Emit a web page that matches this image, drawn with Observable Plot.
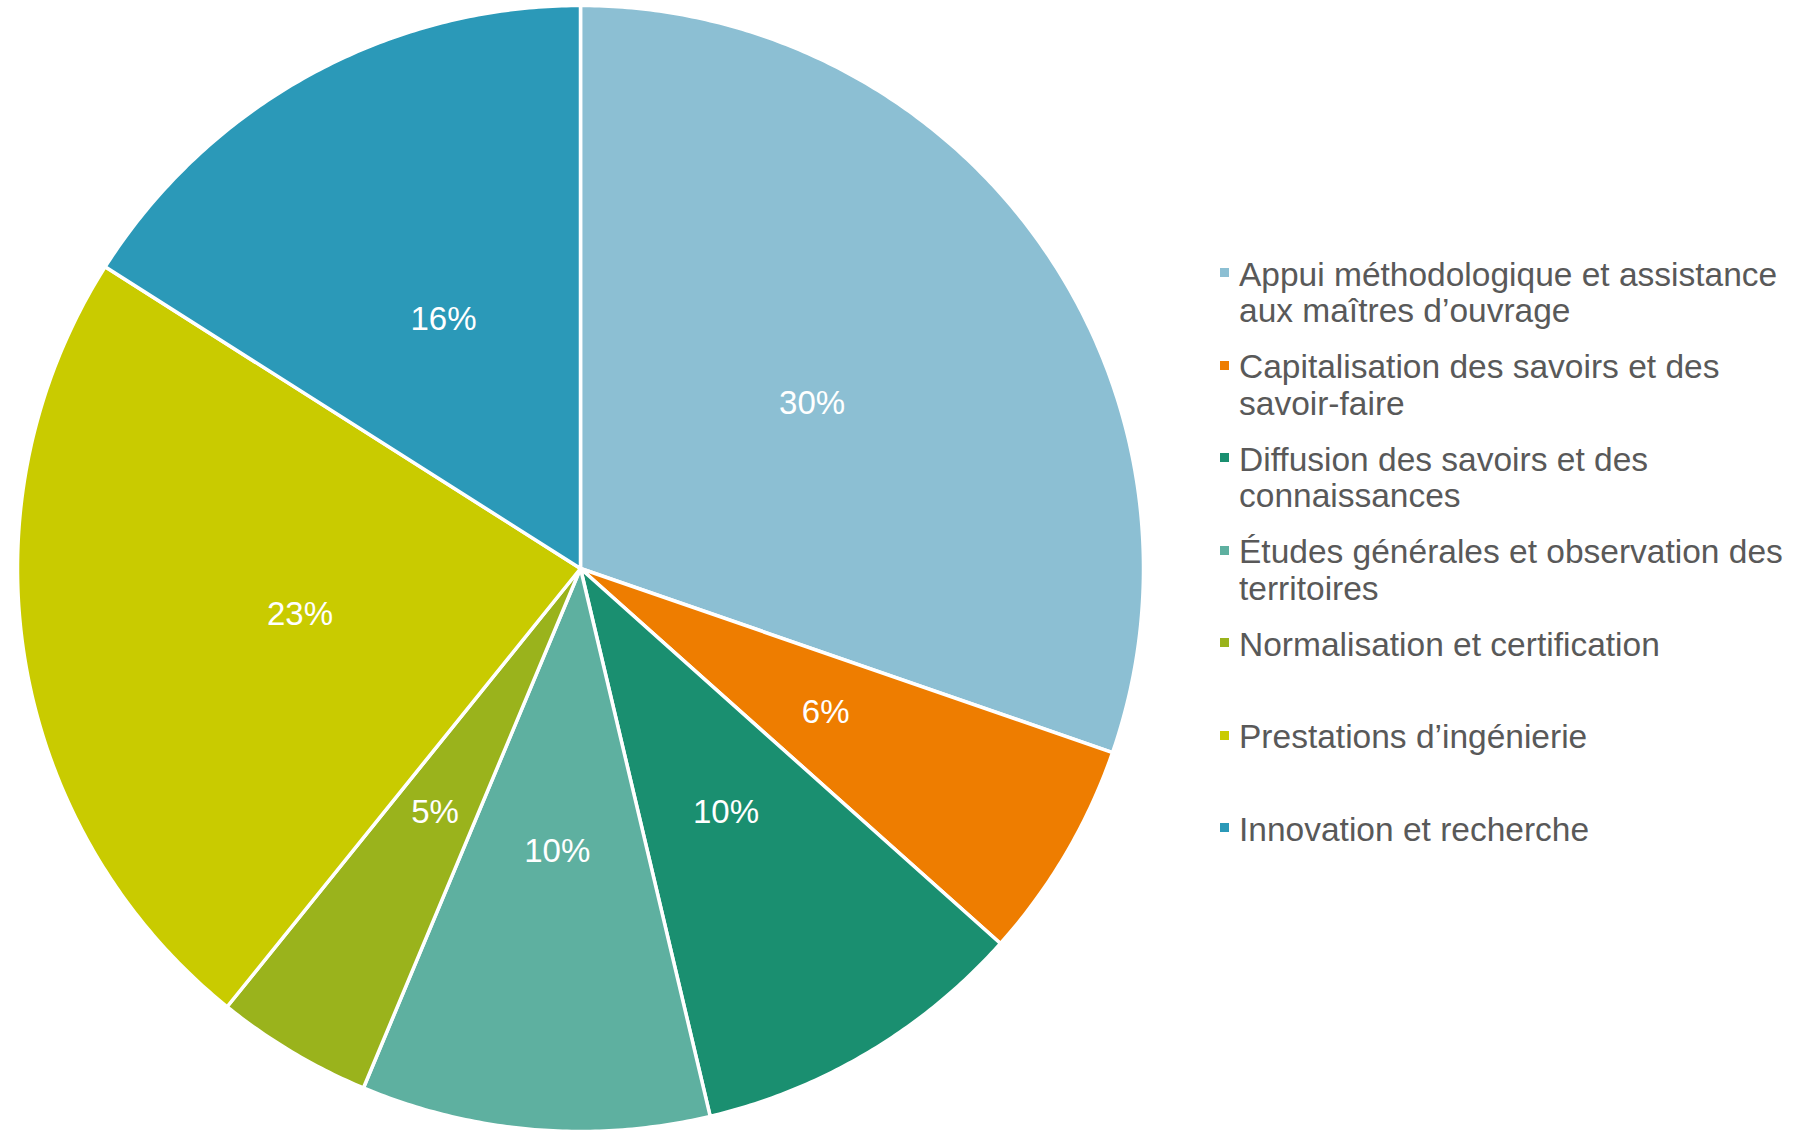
<!DOCTYPE html>
<html>
<head>
<meta charset="utf-8">
<script src="https://cdn.jsdelivr.net/npm/d3@7"></script>
<script src="https://cdn.jsdelivr.net/npm/@observablehq/plot@0.6"></script>
<style>
  html, body { margin: 0; padding: 0; background: #fff; }
  #wrap { position: relative; width: 1815px; height: 1132px; font-family: "Liberation Sans", Arial, sans-serif; }
  #legend { position: absolute; left: 0; top: 0; width: 1815px; height: 1132px; }
  .item { position: absolute; left: 1239px; width: 575px; font-size: 33.5px; line-height: 36.5px; color: #595959; white-space: pre; }
  .sw { position: absolute; width: 9px; height: 9px; }
</style>
</head>
<body>
<div id="wrap"><div id="chart"></div><div id="legend"></div></div>
<script>
// Data (slice shares estimated from the angles; labels as printed)
const categories = [
  "Appui méthodologique et assistance\naux maîtres d’ouvrage",
  "Capitalisation des savoirs et des\nsavoir-faire",
  "Diffusion des savoirs et des\nconnaissances",
  "Études générales et observation des\nterritoires",
  "Normalisation et certification",
  "Prestations d’ingénierie",
  "Innovation et recherche"
];
const shares = [30.3, 6.3, 9.7, 10.0, 4.5, 23.2, 16.0];
const colors = ["#8cbfd3", "#ee7d00", "#1a8f70", "#5eb0a0", "#9ab31c", "#c9cb00", "#2b99b8"];
const valueLabels = ["30%", "6%", "10%", "10%", "5%", "23%", "16%"];

(function () {
  // Build slice polygons in unit coordinates (clockwise from 12 o'clock, screen y downward)
  const arcs = d3.pie().sort(null).value(d => d)(shares);
  const slices = arcs.map((a, i) => {
    const n = Math.max(8, Math.ceil((a.endAngle - a.startAngle) * 120));
    const pts = [[0, 0]];
    for (let k = 0; k <= n; k++) {
      const t = a.startAngle + (a.endAngle - a.startAngle) * k / n;
      pts.push([Math.sin(t), -Math.cos(t)]);
    }
    pts.push([0, 0]);
    return {type: "Feature", properties: {cat: categories[i], color: colors[i]}, geometry: {type: "Polygon", coordinates: [pts]}};
  });
  const labelPts = arcs.map((a, i) => {
    const m = (a.startAngle + a.endAngle) / 2;
    const r = 0.505;
    return {x: r * Math.sin(m), y: -r * Math.cos(m), label: valueLabels[i]};
  });

  const W = 1815, H = 1132;
  const padLeft = 17, padTop = 5, size = 1126;
  const chart = Plot.plot({
    width: W,
    height: H,
    marginLeft: padLeft,
    marginTop: padTop,
    marginRight: W - padLeft - size,
    marginBottom: H - padTop - size,
    projection: {type: "identity", domain: {type: "MultiPoint", coordinates: [[-1, -1], [1, 1]]}},
    style: {fontFamily: "Liberation Sans, Arial, sans-serif", background: "white"},
    marks: [
      Plot.geo(slices, {fill: d => d.properties.color, stroke: "white", strokeWidth: 3.5, strokeLinejoin: "round"}),
      Plot.text(labelPts, {x: "x", y: "y", text: "label", fill: "white", fontSize: 33})
    ]
  });
  document.getElementById("chart").appendChild(chart);

  // Legend
  const legend = document.getElementById("legend");
  categories.forEach((c, i) => {
    const baseline = 287 + i * 92.5;
    const sw = document.createElement("div");
    sw.className = "sw";
    sw.style.background = colors[i];
    sw.style.left = (1224 - 4.5) + "px";
    sw.style.top = (baseline - 14.5 - 4.5) + "px";
    legend.appendChild(sw);
    const it = document.createElement("div");
    it.className = "item";
    it.style.top = (baseline - 30.1) + "px";
    it.textContent = c;
    legend.appendChild(it);
  });
})();
</script>
</body>
</html>
